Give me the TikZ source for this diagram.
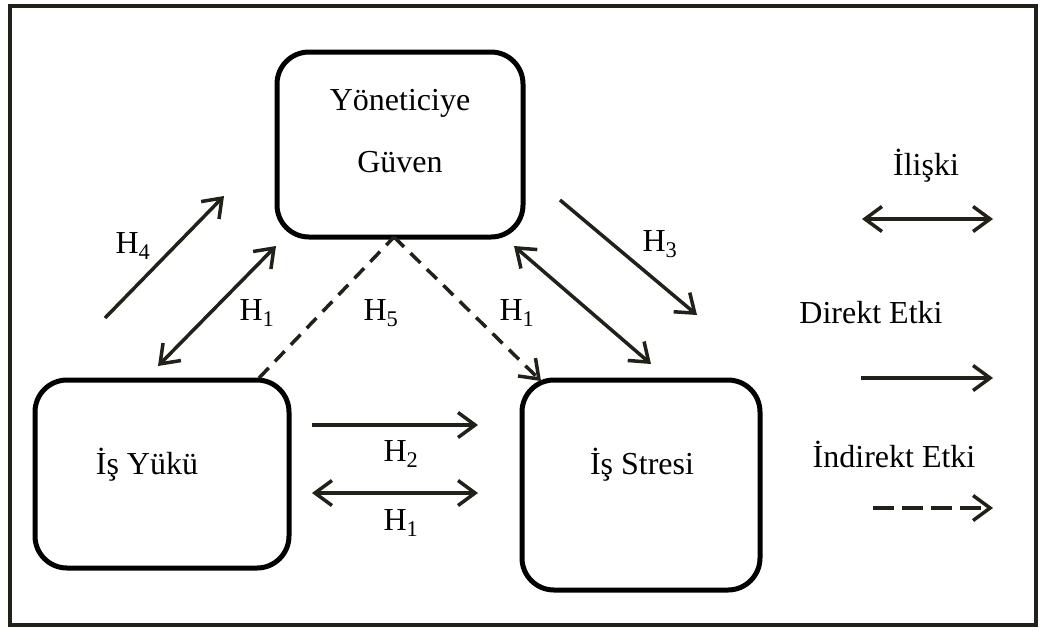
\documentclass[tikz,border=0pt]{standalone}
\usepackage{fontspec}
\setmainfont{Liberation Serif}
\usetikzlibrary{arrows.meta}
\definecolor{ink}{RGB}{33,32,25}
\tikzset{
  box/.style={draw=black,line width=5pt,rounded corners=32pt},
  lbl/.style={font=\fontsize{32}{38}\selectfont,text=black,inner sep=0pt},
  tip/.style={},
  conn/.style={draw=ink,line width=3.5pt,-{Straight Barb[length=17pt,width=25pt,line width=3.5pt]}},
  dconn/.style={conn,line cap=butt,dash pattern=on 14pt off 9pt},
  ldconn/.style={conn,line cap=butt,dash pattern=on 21pt off 8pt},
  bconn/.style={draw=ink,line width=3.5pt,{Straight Barb[length=17pt,width=25pt,line width=3.5pt]}-{Straight Barb[length=17pt,width=25pt,line width=3.5pt]}}
}
\newcommand{\hyp}[1]{H\textsubscript{#1}}
\begin{document}
\begin{tikzpicture}[x=1pt,y=-1pt]
\useasboundingbox (0,0) rectangle (1041,630);
\fill[white] (0,0) rectangle (1041,630);
\draw[ink,line width=4pt] (10,6) rectangle (1036,625);
% boxes
\draw[box] (277,52) rectangle (523,237);
\draw[box] (35,380) rectangle (289,568);
\draw[box] (522,380) rectangle (760,590);
\node[lbl] (yg1) at (400,103) {Yöneticiye};
\node[lbl] (yg2) at (400,162) {Güven};
\node[lbl] (iy) at (147,465) {İş Yükü};
\node[lbl] (is) at (642,465) {İş Stresi};
% arrow endpoints
\coordinate (a4s) at (105,318); \coordinate (a4e) at (224,196);
\coordinate (b1s) at (158,366); \coordinate (b1e) at (276,246);
\coordinate (d5s) at (259,378); \coordinate (d5m) at (394,237); \coordinate (d5e) at (541,381);
\coordinate (b2s) at (514,246); \coordinate (b2e) at (651,364);
\coordinate (a3s) at (560,200); \coordinate (a3e) at (697,315);
\coordinate (a2s) at (312,425); \coordinate (a2e) at (478,425);
\coordinate (b3s) at (312,493); \coordinate (b3e) at (478,493);
\draw[conn] (a4s) -- (a4e);
\draw[bconn] (b1s) -- (b1e);
\draw[dconn,-] (d5s) -- (d5m);
\draw[dconn] (d5m) -- (d5e);
\draw[bconn] (b2s) -- (b2e);
\draw[conn] (a3s) -- (a3e);
\draw[conn] (a2s) -- (a2e);
\draw[bconn] (b3s) -- (b3e);
% labels
\node[lbl] (h4) at (133,246) {\hyp{4}};
\node[lbl] (h1a) at (257,313) {\hyp{1}};
\node[lbl] (h5) at (381,313) {\hyp{5}};
\node[lbl] (h1b) at (517,313) {\hyp{1}};
\node[lbl] (h3) at (660,244) {\hyp{3}};
\node[lbl] (h2) at (401,454) {\hyp{2}};
\node[lbl] (h1c) at (401,523) {\hyp{1}};
% legend
\node[lbl] (l1) at (926,166) {İlişki};
\coordinate (l1s) at (862,219); \coordinate (l1e) at (993,219);
\draw[bconn] (l1s) -- (l1e);
\node[lbl] (l2) at (871,313) {Direkt Etki};
\coordinate (l2s) at (861,378); \coordinate (l2e) at (993,378);
\draw[conn] (l2s) -- (l2e);
\node[lbl] (l3) at (894,454) {İndirekt Etki};
\coordinate (l3s) at (873,508); \coordinate (l3e) at (993,508);
\draw[ldconn] (l3s) -- (l3e);
\end{tikzpicture}
\end{document}
